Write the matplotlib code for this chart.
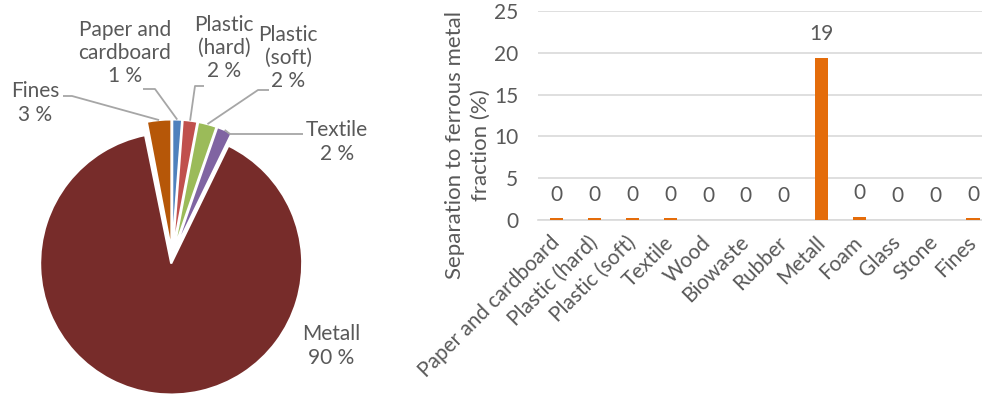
import numpy as np
import matplotlib
matplotlib.use("Agg")
import matplotlib.pyplot as plt

plt.rcParams['font.family'] = ['Lato', 'DejaVu Sans']

# composition of the sample (%), slices in clockwise order from the top
pie_names = ["Paper and\ncardboard", "Plastic\n(hard)", "Plastic\n(soft)", "Textile",
             "Metall", "Foam", "Fines"]
pie_values = [1.2, 1.8, 2.3, 1.9, 89.6, 0.2, 3.0]
pie_colors = ["#4F81BD", "#C0504D", "#9BBB59", "#8064A2", "#772C2A", "#5F7530", "#B65708"]

# separation into the ferrous metal fraction (%)
bar_names = ["Paper and cardboard", "Plastic (hard)", "Plastic (soft)", "Textile", "Wood",
             "Biowaste", "Rubber", "Metall", "Foam", "Glass", "Stone", "Fines"]
bar_values = [0.2, 0.2, 0.2, 0.2, 0.0, 0.0, 0.0, 19.4, 0.4, 0.0, 0.0, 0.2]

txt = "#595959"
grid = "#D9D9D9"
fs = 15
W, H = 982, 394

fig = plt.figure(figsize=(W / 100, H / 100), dpi=100)

# ---- pie: axes where one data unit = R pixels
R = 131.0
cx, cy = 172.0, 257.0
pw = 400.0
ax1 = fig.add_axes([0, 0, pw / W, 1])


def px(x, y):
    # pixel position (from top-left) -> pie data coords
    return (x - cx) / R, (cy - y) / R


wedges, _ = ax1.pie(pie_values, colors=pie_colors, startangle=90, counterclock=False,
                    explode=[0.05] * len(pie_values), radius=1.0,
                    wedgeprops=dict(edgecolor="white", linewidth=1.5))
ax1.set_xlim(-cx / R, (pw - cx) / R)
ax1.set_ylim(-(H - cy) / R, cy / R)
ax1.set_aspect("auto")
ax1.axis("off")

# label text position and leader elbow (pixels), None = no leader
label_pos = {
    "Paper and\ncardboard": ((125, 53), [(143, 89), (155, 89)]),
    "Plastic\n(hard)": ((224, 48), [(204, 86), (195, 86)]),
    "Plastic\n(soft)": ((288, 58), [(269, 90), (258, 90)]),
    "Textile": ((337, 142), [(303, 134), (230, 134)]),
    "Metall": ((331, 346), None),
    "Fines": ((35, 103), [(63, 96), (72, 96)]),
}

for w, name, v in zip(wedges, pie_names, pie_values):
    if name not in label_pos:
        continue
    (tx, ty), leader = label_pos[name]
    x, y = px(tx, ty)
    ax1.text(x, y, f"{name}\n{v:.0f} %", ha="center", va="center", color=txt,
             fontsize=fs, linespacing=1.2)
    if leader:
        mid = np.deg2rad((w.theta1 + w.theta2) / 2)
        ex = w.center[0] + w.r * np.cos(mid)
        ey = w.center[1] + w.r * np.sin(mid)
        pts = [px(*p) for p in leader] + [(ex, ey)]
        ax1.plot([p[0] for p in pts], [p[1] for p in pts], color="#A6A6A6", lw=1.3,
                 solid_capstyle="butt")

# ---- bar chart
left, right = 537.6, 992.0
top, base = 11.0, 220.0
ax2 = fig.add_axes([left / W, (H - base) / H, (right - left) / W, (base - top) / H])
x = np.arange(len(bar_names))
bars = ax2.bar(x, bar_values, width=0.35, color="#E46C0A", zorder=3)
ax2.set_xlim(-0.5, len(bar_names) - 0.5)
ax2.set_ylim(0, 25)
ax2.set_yticks(range(0, 26, 5))
ax2.yaxis.grid(True, color=grid, lw=1.2, zorder=0)
for s in ["top", "right", "left"]:
    ax2.spines[s].set_visible(False)
ax2.spines["bottom"].set_color(grid)
ax2.spines["bottom"].set_linewidth(1.2)
ax2.tick_params(length=0, colors=txt, labelsize=fs)
ax2.tick_params(axis="y", pad=14)
ax2.set_xticks(x)
ax2.set_xticklabels(bar_names, rotation=45, ha="right", va="center",
                    rotation_mode="anchor")
ax2.tick_params(axis="x", pad=14)

for xi, v in zip(x, bar_values):
    ax2.annotate(f"{v:.0f}", (xi, v), xytext=(0, 17), textcoords="offset points",
                 ha="center", va="center", color=txt, fontsize=fs)

fig.text(468 / W, 1 - 145 / H, "Separation to ferrous metal\nfraction (%)", rotation=90,
         ha="center", va="center", color=txt, fontsize=16, linespacing=1.4)

fig.savefig("out.png", dpi=100)
